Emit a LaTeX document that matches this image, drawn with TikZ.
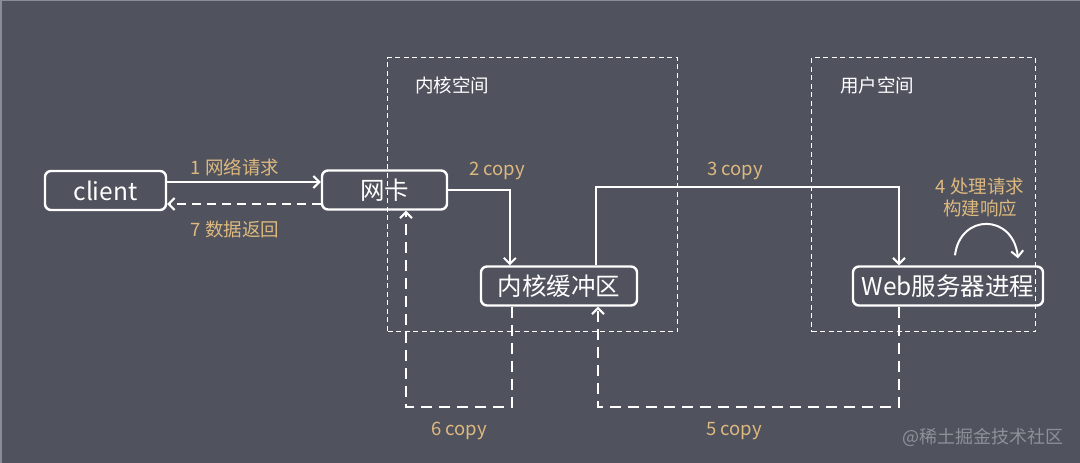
\documentclass[tikz,border=0pt]{standalone}
\usepackage{fontspec}
\setmainfont{Noto Sans CJK SC}
\usetikzlibrary{arrows.meta,calc}
\definecolor{bg}{HTML}{50525D}
\definecolor{lab}{HTML}{DDB97F}
\definecolor{wm}{HTML}{8E9099}
\definecolor{edge}{HTML}{8A8C96}
\begin{document}
\begin{tikzpicture}[x=1pt,y=-1pt,
  box/.style={draw=white, line width=2.4pt, rounded corners=6pt, text=white,
    font=\fontsize{24.5}{28}\selectfont, inner sep=0pt, minimum height=39pt},
  spacebox/.style={draw=white, line width=1.2pt, dash pattern=on 5pt off 3.5pt,
    inner sep=0pt, anchor=north west},
  spacelbl/.style={text=white, font=\fontsize{18.5}{22}\selectfont},
  lbl/.style={text=lab, font=\fontsize{18.5}{22}\selectfont},
  arr/.style={draw=white, line width=2pt, -{Straight Barb[length=6pt,width=12pt]}},
  darr/.style={arr, dash pattern=on 11pt off 7pt}
]
\fill[bg] (0,0) rectangle (1080,463);
\useasboundingbox (0,0) rectangle (1080,463);
\draw[edge, line width=1.5pt] (0.75,463) -- (0.75,0.5) -- (1080,0.5);

% containers
\node[spacebox, minimum width=290pt, minimum height=274pt] (kspace) at (387,57) {};
\node[spacebox, minimum width=224pt, minimum height=274pt] (uspace) at (811,57) {};
\node[spacelbl] (kspacelbl) at (452,85) {内核空间};
\node[spacelbl] (uspacelbl) at (877,85) {用户空间};

% boxes
\node[box, minimum width=121pt] (client) at (105.5,190.5) {client};
\node[box, minimum width=125pt] (nic) at (384.5,190) {网卡};
\node[box, minimum width=156pt] (kbuf) at (559,286) {内核缓冲区};
\node[box, minimum width=190pt] (web) at (948,286) {Web服务器进程};

% labels
\node[lbl] (l1) at (235,167) {1 网络请求};
\node[lbl] (l7) at (235,229) {7 数据返回};
\node[lbl] (l2) at (497,171) {2 copy};
\node[lbl] (l3) at (735,171) {3 copy};
\node[lbl, align=center] (l4) at (980,198) {4 处理请求\\构建响应};
\node[lbl] (l6) at (459,431) {6 copy};
\node[lbl] (l5) at (734,431) {5 copy};
\node[text=wm, font=\fontsize{18}{20}\selectfont] (wmk) at (983,437) {@稀土掘金技术社区};

% connectors
\draw[arr] ([yshift=8.5pt]client.east) -- ([yshift=8pt]nic.west);
\draw[arr, dash pattern=on 9pt off 6pt] ([yshift=-14pt]nic.west) -- ([yshift=-13.5pt]client.east);
\draw[arr] (nic.east) -| ([xshift=30pt]kbuf.north west);
\draw[arr] ([xshift=37pt]kbuf.north) -- ++(0,-78) -| ([xshift=-49pt]web.north);
\coordinate (a4s) at ([xshift=7pt,yshift=10pt]web.north);
\coordinate (a4e) at ([xshift=70pt,yshift=7pt]web.north);
\draw[arr] (a4s) .. controls +(5,-42) and +(-5,-45) .. (a4e);
\draw[darr] ([xshift=-49pt]web.south) -- ++(0,100) -| ([xshift=39pt]kbuf.south);
\draw[darr] ([xshift=-47pt]kbuf.south) -- ++(0,100) -| ([xshift=21.5pt]nic.south);
\end{tikzpicture}
\end{document}
